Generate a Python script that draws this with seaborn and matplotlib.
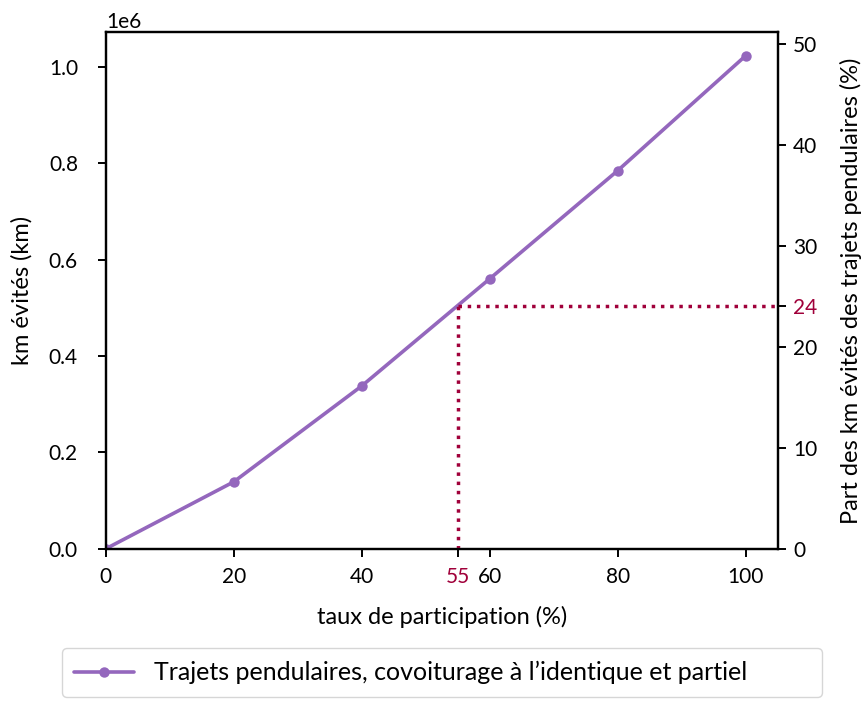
import numpy as np
import pandas as pd
import seaborn as sns
import matplotlib
matplotlib.use("Agg")
import matplotlib.pyplot as plt

# data
participation = [0, 20, 40, 60, 80, 100]
km_evites = [0, 0.139e6, 0.338e6, 0.5605e6, 0.785e6, 1.0235e6]
serie = "Trajets pendulaires, covoiturage à l’identique et partiel"

taux_marque = 55
part_marque = 24
km_total = 2.096e6  # total km of commuting trips (right axis scale)

line_color = "#9467bd"
mark_color = "#a0003a"

sns.set_style("ticks")
plt.rcParams["font.family"] = ["Lato", "DejaVu Sans"]
plt.rcParams["axes.linewidth"] = 1.6
plt.rcParams["axes.edgecolor"] = "black"
plt.rcParams["text.color"] = "black"
plt.rcParams["axes.labelcolor"] = "black"
plt.rcParams["xtick.color"] = "black"
plt.rcParams["ytick.color"] = "black"

df = pd.DataFrame({"taux": participation, "km": km_evites, "serie": serie})

fig = plt.figure(figsize=(8.67, 7.24), dpi=100)
ax = fig.add_axes([0.122, 0.242, 0.775, 0.714])

sns.lineplot(data=df, x="taux", y="km", hue="serie", palette=[line_color],
             marker="o", markersize=7.5, markeredgewidth=0, linewidth=2.6, ax=ax)

ax.set_xlim(0, 105)
ax.set_ylim(0, 1.073e6)
ax.set_xticks([0, 20, 40, 55, 60, 80, 100])
ax.set_xlabel("taux de participation (%)", fontsize=17, labelpad=14)
ax.set_ylabel("km évités (km)", fontsize=17, labelpad=12)
ax.tick_params(axis="x", labelsize=15, width=1.4, length=6, pad=7)
ax.tick_params(axis="y", labelsize=15, width=1.4, length=6, pad=14)
ax.yaxis.get_offset_text().set_fontsize(15)
for lbl in ax.get_xticklabels():
    if lbl.get_text() == str(taux_marque):
        lbl.set_color(mark_color)

ax2 = ax.twinx()
ax2.set_ylim(0, 1.073e6 / km_total * 100)
ax2.set_yticks([0, 10, 20, 24, 30, 40, 50])
ax2.set_ylabel("Part des km évités des trajets pendulaires (%)", fontsize=17, labelpad=16)
ax2.tick_params(labelsize=15, width=1.4, length=6, pad=5)
for lbl in ax2.get_yticklabels():
    if lbl.get_text() == str(part_marque):
        lbl.set_color(mark_color)

# dotted guide lines at 55 % participation -> 24 %
ax2.plot([taux_marque, taux_marque], [0, part_marque], ls=":", lw=2.5, color=mark_color)
ax2.plot([taux_marque, 105], [part_marque, part_marque], ls=":", lw=2.5, color=mark_color)

handles, labels = ax.get_legend_handles_labels()
ax.get_legend().remove()
fig.legend(handles, labels, loc="center", bbox_to_anchor=(0.0715, 0.04, 0.8765, 0.062),
           mode="expand", fontsize=18, frameon=True, fancybox=True, edgecolor="#cccccc",
           handlelength=2.4, borderpad=0.5, borderaxespad=0)

fig.savefig("out.png", dpi=100)
